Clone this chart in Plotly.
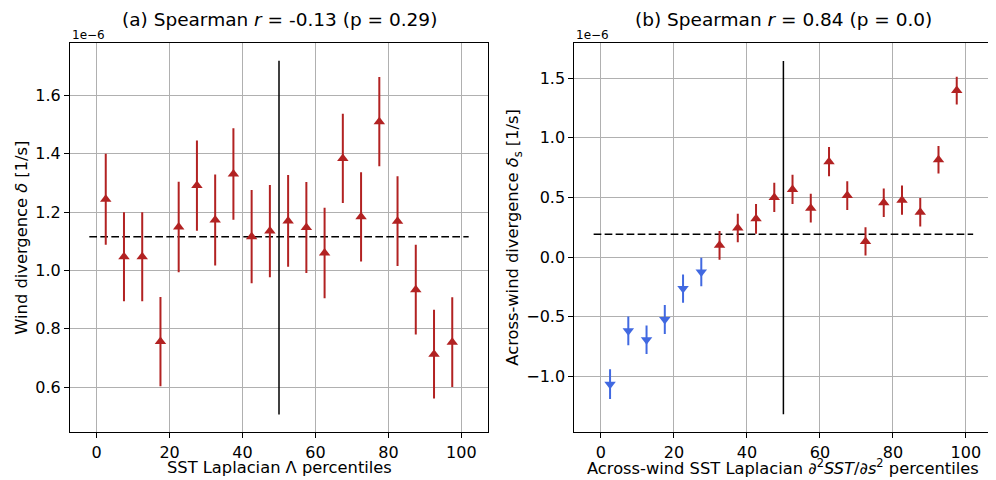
import plotly.graph_objects as go

# ---------------- data (values in units of 1e-6 1/s) ----------------
percentiles = [2.5, 7.5, 12.5, 17.5, 22.5, 27.5, 32.5, 37.5, 42.5, 47.5,
               52.5, 57.5, 62.5, 67.5, 72.5, 77.5, 82.5, 87.5, 92.5, 97.5]

div_a = [1.244, 1.047, 1.047, 0.756, 1.149, 1.291, 1.173, 1.331, 1.116, 1.135,
         1.170, 1.147, 1.060, 1.384, 1.184, 1.510, 1.169, 0.934, 0.713, 0.754]
err_a = [0.156, 0.153, 0.153, 0.153, 0.155, 0.155, 0.156, 0.157, 0.160, 0.158,
         0.157, 0.156, 0.155, 0.153, 0.153, 0.153, 0.154, 0.154, 0.152, 0.154]

div_b = [-1.066, -0.619, -0.694, -0.524, -0.265, -0.126, 0.098, 0.243, 0.320, 0.500,
         0.567, 0.410, 0.800, 0.515, 0.131, 0.455, 0.477, 0.376, 0.816, 1.396]
err_b = [0.125, 0.120, 0.119, 0.121, 0.119, 0.120, 0.120, 0.120, 0.124, 0.122,
         0.122, 0.120, 0.122, 0.120, 0.118, 0.119, 0.122, 0.119, 0.116, 0.116]

mean_a = 1.116
mean_b = 0.19
vline_a = [0.506, 1.719]
vline_b = [-1.319, 1.645]
hline_x = [-2, 102]
median_x = 50

titles = ["(a) Spearman <i>r</i> = -0.13 (p = 0.29)",
          "(b) Spearman <i>r</i> = 0.84 (p = 0.0)"]
xlabels = ["SST Laplacian Λ percentiles",
           "Across-wind SST Laplacian ∂<sup>2</sup><i>SST</i>/∂<i>s</i><sup>2</sup> percentiles"]
ylabels = ["Wind divergence <i>δ</i> [1/s]",
           "Across-wind divergence <i>δ</i><sub>s</sub> [1/s]"]
xticks = [0, 20, 40, 60, 80, 100]
yticks_a = [0.6, 0.8, 1.0, 1.2, 1.4, 1.6]
yticks_b = [-1.0, -0.5, 0.0, 0.5, 1.0, 1.5]

RED = "#b22222"
BLUE = "#4169e1"
FONT = "DejaVu Sans"

# The page body has an 8px margin, so the figure is drawn 8px in from the window edge.
OFF = 8
W, H = 996 - OFF, 480 - OFF


def px(xp):
    return (xp - OFF) / W


def py(yp):
    return 1 - (yp - OFF) / H


fig = go.Figure()


def add_points(xs, ys, es, xa, ya):
    groups = [([], [], [], RED, "triangle-up"), ([], [], [], BLUE, "triangle-down")]
    for x, y, e in zip(xs, ys, es):
        g = groups[0] if y >= 0 else groups[1]
        g[0].append(x)
        g[1].append(y)
        g[2].append(e)
    for gx, gy, ge, col, sym in groups:
        if not gx:
            continue
        fig.add_trace(go.Scatter(
            x=gx, y=gy, mode="markers", xaxis=xa, yaxis=ya,
            marker=dict(symbol=sym, size=10, color=col, line=dict(width=0)),
            error_y=dict(type="data", array=ge, visible=True, color=col,
                         thickness=2, width=0),
            showlegend=False, hoverinfo="skip"))


def add_lines(mean, vl, xa, ya):
    fig.add_trace(go.Scatter(x=hline_x, y=[mean, mean], mode="lines",
                             xaxis=xa, yaxis=ya,
                             line=dict(color="black", width=1.5, dash="7.7px,3.3px"),
                             showlegend=False, hoverinfo="skip"))
    fig.add_trace(go.Scatter(x=[median_x, median_x], y=vl, mode="lines",
                             xaxis=xa, yaxis=ya,
                             line=dict(color="black", width=1.5),
                             showlegend=False, hoverinfo="skip"))


add_lines(mean_a, vline_a, "x", "y")
add_points(percentiles, div_a, err_a, "x", "y")
add_lines(mean_b, vline_b, "x2", "y2")
add_points(percentiles, div_b, err_b, "x2", "y2")

ydom = [py(432.3), py(43)]
dom_a = [px(70), px(488)]
dom_b = [px(574.3), px(992.5)]

axis_common = dict(showline=True, mirror=True, linecolor="black", linewidth=1,
                   showgrid=True, gridcolor="#b0b0b0", gridwidth=1,
                   ticks="outside", ticklen=5, tickcolor="black", tickwidth=1,
                   zeroline=False, tickfont=dict(family=FONT, size=16, color="black"))

fig.update_layout(
    width=W, height=H,
    margin=dict(l=0, r=0, t=0, b=0),
    paper_bgcolor="white", plot_bgcolor="white",
    font=dict(family=FONT, color="black"),
    xaxis=dict(domain=dom_a, range=[-7.3, 107.3], tickvals=xticks, anchor="y", **axis_common),
    yaxis=dict(domain=ydom, range=[0.445, 1.78], tickvals=yticks_a, tickformat=".1f",
               anchor="x", **axis_common),
    xaxis2=dict(domain=dom_b, range=[-7.3, 107.3], tickvals=xticks, anchor="y2", **axis_common),
    yaxis2=dict(domain=ydom, range=[-1.47, 1.795], tickvals=yticks_b, tickformat=".1f",
                anchor="x2", **axis_common),
)

anns = []
for i, dom in enumerate([dom_a, dom_b]):
    cx = (dom[0] + dom[1]) / 2
    anns.append(dict(text=titles[i], x=cx, y=py(19), xref="paper", yref="paper",
                     xanchor="center", yanchor="middle", showarrow=False,
                     font=dict(family=FONT, size=18.5)))
    anns.append(dict(text=xlabels[i], x=cx, y=py(467), xref="paper", yref="paper",
                     xanchor="center", yanchor="middle", showarrow=False,
                     font=dict(family=FONT, size=16.3)))
    anns.append(dict(text="1e−6", x=dom[0], y=py(35), xref="paper", yref="paper",
                     xanchor="left", yanchor="middle", showarrow=False,
                     font=dict(family=FONT, size=12)))
ylab_x = [px(22), px(514)]
for i in range(2):
    anns.append(dict(text=ylabels[i], x=ylab_x[i], y=(ydom[0] + ydom[1]) / 2,
                     xref="paper", yref="paper", xanchor="center", yanchor="middle",
                     textangle=-90, showarrow=False, font=dict(family=FONT, size=16.3)))
fig.update_layout(annotations=anns)

fig.write_html("out.html")
